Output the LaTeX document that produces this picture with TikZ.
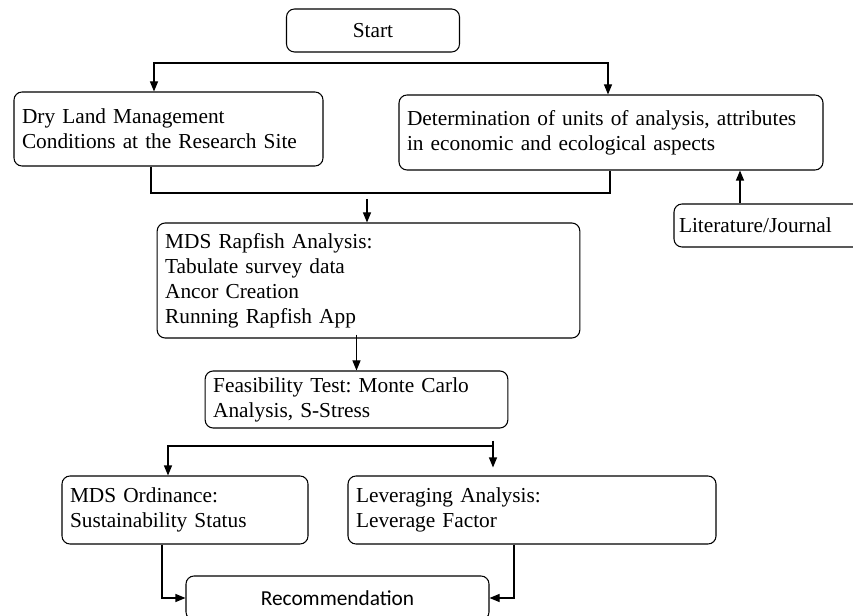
\documentclass[tikz,border=0pt]{standalone}
\usepackage{fontspec}
\setmainfont{Liberation Serif}
\newfontfamily\recfont{Carlito}
\frenchspacing
\usetikzlibrary{arrows.meta, calc, positioning}

\tikzset{
  box/.style={draw, line width=0.8pt, rounded corners=6pt, align=left,
    inner xsep=6pt, inner ysep=0pt, font=\fontsize{16}{18.75}\selectfont},
  cbox/.style={box, align=center},
  flow/.style={line width=0.8pt}
}

\begin{document}
\begin{tikzpicture}[x=0.75pt, y=-0.75pt, >={Triangle[length=7.5pt,width=6pt]}]
  % Canvas
  \clip (0,0) rectangle (853,616);

  % Boxes
  \node[cbox, minimum width=129.75pt, minimum height=32.25pt] (start) at (373,30.5) {Start};
  \node[box, text width=219.75pt, minimum height=55.5pt] (dryland) at (168.5,129)
    {Dry Land Management\\Conditions at the Research Site};
  \node[box, text width=306pt, minimum height=56.25pt] (units) at (611,132.5)
    {Determination of units of analysis, attributes\\in economic and ecological aspects};
  \node[box, inner xsep=3.75pt, text width=135pt, minimum height=32.25pt] (litjournal) at (769,225.5)
    {Literature/Journal};
  \node[box, text width=305pt, minimum height=86.25pt] (rapfish) at (368.5,280.5)
    {MDS Rapfish Analysis:\\Tabulate survey data\\Ancor Creation\\Running Rapfish App};
  \node[box, text width=215pt, minimum height=42.75pt] (feasib) at (356.5,399.5)
    {Feasibility Test: Monte Carlo\\Analysis, S-Stress};
  \node[box, text width=172.5pt, minimum height=51pt] (ordinance) at (185,510)
    {MDS Ordinance:\\Sustainability Status};
  \node[box, text width=264pt, minimum height=51pt] (leverage) at (532,510)
    {Leveraging Analysis:\\Leverage Factor};
  \node[cbox, minimum width=227.25pt, minimum height=33pt, font=\fontsize{16}{18.75}\recfont] (recom) at (337.5,598)
    {Recommendation};

  % Split points
  \coordinate (topL) at (154,63);
  \coordinate (topR) at (608,63);
  \coordinate (joinL) at (151,193);
  \coordinate (joinR) at (610,193);
  \coordinate (joinM) at (367,199);
  \coordinate (splitL) at (168,446);
  \coordinate (splitR) at (493,446);

  % Connectors
  \draw[flow, <->] (topL |- dryland.north) -- (topL) -- (topR) -- (topR |- units.north);
  \draw[flow] (joinL |- dryland.south) -- (joinL) -- (joinR) -- (joinR |- units.south);
  \draw[flow, ->] (joinM) -- (joinM |- rapfish.north);
  \draw[flow, ->] ([xshift=-21.75pt]litjournal.north) -- ([xshift=-21.75pt]litjournal.north |- units.south);
  \draw[flow, ->] ([yshift=3pt]feasib.north |- rapfish.south) -- (feasib.north);
  \draw[flow, <-] (splitL |- ordinance.north) -- (splitL) -- (splitR);
  \draw[flow, ->, shorten >=6pt] ([yshift=4pt]splitR) -- (splitR |- leverage.north);
  \draw[flow, ->] ([xshift=-17.25pt]ordinance.south) |- (recom.west);
  \draw[flow, ->] ([xshift=-13.5pt]leverage.south) |- (recom.east);
\end{tikzpicture}
\end{document}
